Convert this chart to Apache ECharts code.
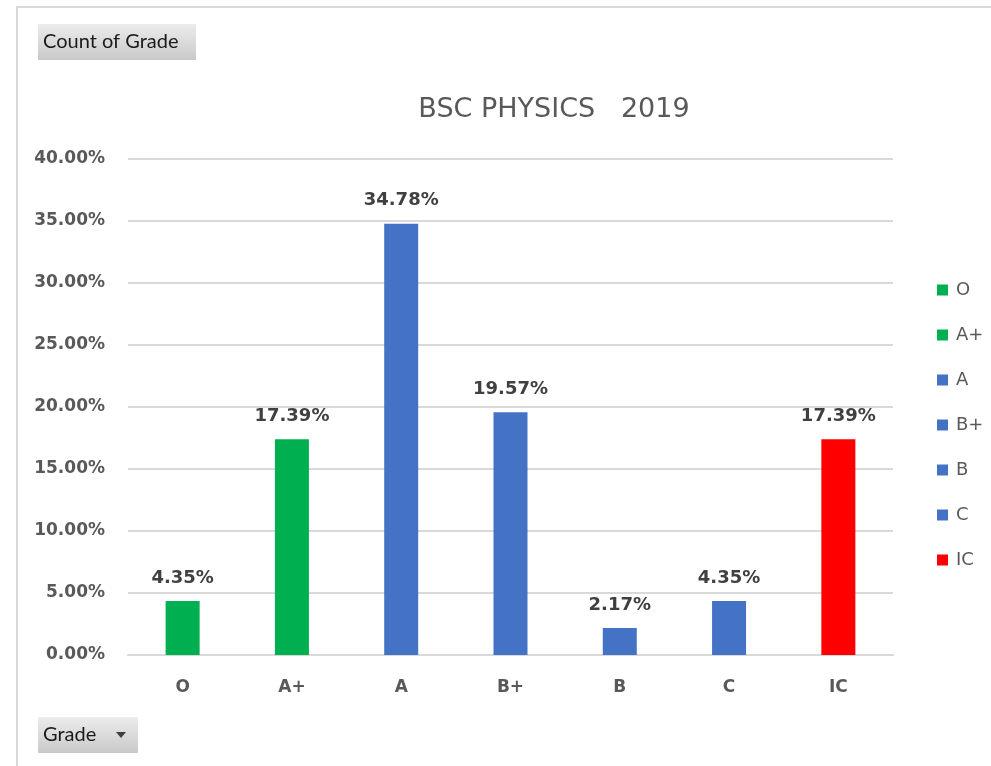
<!DOCTYPE html>
<html>
<head>
<meta charset="utf-8">
<title>BSC PHYSICS 2019</title>
<script src="https://cdn.jsdelivr.net/npm/echarts@6/dist/echarts.min.js"></script>
<style>
  html, body { margin: 0; padding: 0; background: #fff; }
  #main { width: 991px; height: 766px; }
</style>
</head>
<body>
<div id="main"></div>
<script>
// 数据
var grades = ['O', 'A+', 'A', 'B+', 'B', 'C', 'IC'];
var shares = [0.0435, 0.1739, 0.3478, 0.1957, 0.0217, 0.0435, 0.1739];
var barColors = ['#00b050', '#00b050', '#4472c4', '#4472c4', '#4472c4', '#4472c4', '#ff0000'];
var yTicks = [0, 0.05, 0.10, 0.15, 0.20, 0.25, 0.30, 0.35, 0.40];

var FONT = '"DejaVu Sans", sans-serif';
var BTN_FONT = 'Lato, "Open Sans", sans-serif';

function pct(v) {
  return (v * 100).toFixed(2) + '%';
}

// 每个等级一个系列，这样图例能显示每个柱子
var series = [];
for (var i = 0; i < grades.length; i++) {
  var d = [];
  for (var j = 0; j < grades.length; j++) {
    d.push(j === i ? shares[i] : null);
  }
  series.push({
    name: grades[i],
    type: 'bar',
    data: d,
    barWidth: 34,
    barGap: '-100%',
    itemStyle: { color: barColors[i] },
    label: {
      show: true,
      position: 'top',
      distance: 14,
      formatter: function (p) { return pct(p.value); },
      color: '#404040',
      fontWeight: 'bold',
      fontSize: 18,
      fontFamily: FONT
    }
  });
}

var chart = echarts.init(document.getElementById('main'));
chart.setOption({
  animation: false,
  title: {
    text: 'BSC PHYSICS   2019',
    left: 549,
    textAlign: 'center',
    top: 91,
    textStyle: {
      fontSize: 27,
      fontWeight: 'normal',
      color: '#595959',
      fontFamily: FONT
    }
  },
  legend: {
    orient: 'vertical',
    left: 937,
    top: 281,
    padding: 0,
    icon: 'rect',
    itemWidth: 11,
    itemHeight: 11,
    itemGap: 27,
    data: grades,
    textStyle: { fontSize: 18, color: '#595959', fontFamily: FONT, padding: [0, 0, 0, 3] }
  },
  grid: { left: 128, right: 98, top: 159, bottom: 111 },
  xAxis: {
    type: 'category',
    data: grades,
    axisLine: { lineStyle: { color: '#d9d9d9', width: 2 } },
    axisTick: { show: false },
    axisLabel: {
      margin: 24,
      fontSize: 17,
      fontWeight: 'bold',
      color: '#595959',
      fontFamily: FONT
    }
  },
  yAxis: {
    type: 'value',
    min: yTicks[0],
    max: yTicks[yTicks.length - 1],
    interval: 0.05,
    axisLine: { show: false },
    axisTick: { show: false },
    splitLine: { lineStyle: { color: '#d9d9d9', width: 2 } },
    axisLabel: {
      margin: 23,
      fontSize: 17,
      fontWeight: 'bold',
      color: '#595959',
      fontFamily: FONT,
      formatter: pct
    }
  },
  graphic: [
    {
      type: 'rect',
      shape: { x: 17, y: 7, width: 1000, height: 800 },
      style: { fill: 'none', stroke: '#d9d9d9', lineWidth: 2 },
      z: -1
    },
    {
      type: 'rect',
      shape: { x: 38, y: 24, width: 158, height: 36 },
      style: {
        fill: new echarts.graphic.LinearGradient(0, 0, 0, 1, [
          { offset: 0, color: '#ececec' },
          { offset: 1, color: '#c9c9c9' }
        ])
      }
    },
    {
      type: 'text',
      x: 43, y: 42,
      style: { text: 'Count of Grade', fontSize: 20, fill: '#1a1a1a', fontFamily: BTN_FONT, verticalAlign: 'middle' }
    },
    {
      type: 'rect',
      shape: { x: 38, y: 717, width: 100, height: 36 },
      style: {
        fill: new echarts.graphic.LinearGradient(0, 0, 0, 1, [
          { offset: 0, color: '#ececec' },
          { offset: 1, color: '#c9c9c9' }
        ])
      }
    },
    {
      type: 'text',
      x: 43, y: 735,
      style: { text: 'Grade', fontSize: 20, fill: '#1a1a1a', fontFamily: BTN_FONT, verticalAlign: 'middle' }
    },
    {
      type: 'polygon',
      shape: { points: [[116, 732], [126, 732], [121, 738]] },
      style: { fill: '#404040' }
    }
  ],
  series: series
});
</script>
</body>
</html>
